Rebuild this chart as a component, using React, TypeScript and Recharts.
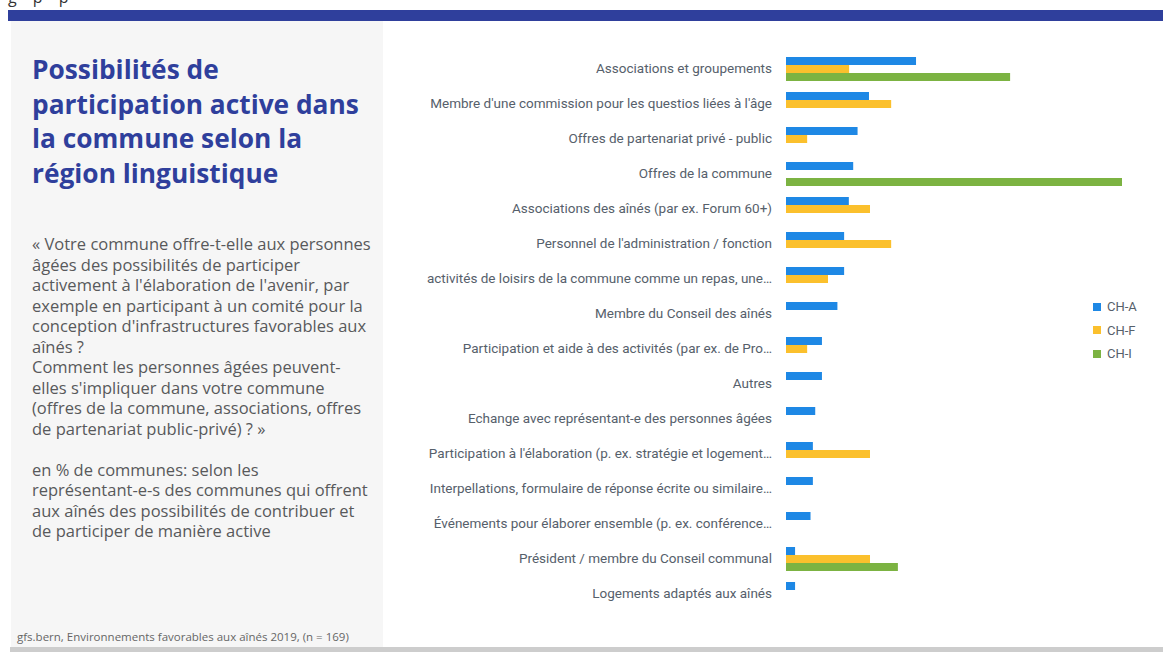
import React from 'react';
import { BarChart, Bar, XAxis, YAxis, Legend } from 'recharts';

const categories = [
  'Associations et groupements',
  "Membre d'une commission pour les questios liées à l'âge",
  'Offres de partenariat privé - public',
  'Offres de la commune',
  'Associations des aînés (par ex. Forum 60+)',
  "Personnel de l'administration / fonction",
  'activités de loisirs de la commune comme un repas, une…',
  'Membre du Conseil des aînés',
  'Participation et aide à des activités (par ex. de Pro…',
  'Autres',
  'Echange avec représentant-e des personnes âgées',
  "Participation à l'élaboration (p. ex. stratégie et logement…",
  'Interpellations, formulaire de réponse écrite ou similaire…',
  'Événements pour élaborer ensemble (p. ex. conférence…',
  'Président / membre du Conseil communal',
  'Logements adaptés aux aînés',
];

const chA = [38.7, 24.7, 21.3, 20.0, 18.7, 17.3, 17.3, 15.3, 10.7, 10.7, 8.7, 8.0, 8.0, 7.3, 2.7, 2.7];
const chF = [18.8, 31.3, 6.3, 0, 25.0, 31.3, 12.5, 0, 6.3, 0, 0, 25.0, 0, 0, 25.0, 0];
const chI = [66.7, 0, 0, 100, 0, 0, 0, 0, 0, 0, 0, 0, 0, 0, 33.3, 0];

const seriesNames = ['CH-A', 'CH-F', 'CH-I'];
const seriesColors = ['#1e88e5', '#fbc02d', '#7cb342'];

const data = categories.map((name, i) => ({
  name,
  'CH-A': chA[i],
  'CH-F': chF[i],
  'CH-I': chI[i],
}));

const FONT = 'Roboto, "Noto Sans", sans-serif';
const TEXT_FONT = '"Open Sans", "Noto Sans", sans-serif';

const LegendBox = (props: any) => {
  const items = props.payload || [];
  return (
    <div style={{ fontFamily: FONT, fontSize: 13, color: '#56606b' }}>
      {items.map((item: any) => (
        <div key={item.value} style={{ display: 'flex', alignItems: 'center', height: 23.5 }}>
          <span style={{ display: 'inline-block', width: 8, height: 8, background: item.color, marginRight: 6 }} />
          <span>{item.value}</span>
        </div>
      ))}
    </div>
  );
};

export default function App() {
  return (
    <div style={{ position: 'absolute', left: 0, top: 0, width: 1163, height: 652, overflow: 'hidden', background: '#fff', fontFamily: TEXT_FONT }}>
      <div style={{ position: 'absolute', left: 8, top: -14, fontSize: 16, color: '#333', letterSpacing: 6 }}>g p p</div>
      <div style={{ position: 'absolute', left: 8, top: 10, width: 1155, height: 11, background: '#2f3f9c' }} />
      <div style={{ position: 'absolute', left: 11, top: 21, width: 372, height: 626, background: '#f6f6f6' }} />
      <div style={{ position: 'absolute', left: 10, top: 647, width: 1153, height: 5, background: '#cdcdcd' }} />

      <div style={{ position: 'absolute', left: 32, top: 52, width: 350, fontSize: 26.3, fontWeight: 700, lineHeight: '34.5px', color: '#2f3f9c' }}>
        Possibilités de<br />
        participation active dans<br />
        la commune selon la<br />
        région linguistique
      </div>

      <div style={{ position: 'absolute', left: 32, top: 234, width: 350, fontSize: 16.5, lineHeight: '20.5px', color: '#58595b' }}>
        « Votre commune offre-t-elle aux personnes<br />
        âgées des possibilités de participer<br />
        activement à l'élaboration de l'avenir, par<br />
        exemple en participant à un comité pour la<br />
        conception d'infrastructures favorables aux<br />
        aînés ?<br />
        Comment les personnes âgées peuvent-<br />
        elles s'impliquer dans votre commune<br />
        (offres de la commune, associations, offres<br />
        de partenariat public-privé) ? »<br />
        <br />
        en % de communes: selon les<br />
        représentant-e-s des communes qui offrent<br />
        aux aînés des possibilités de contribuer et<br />
        de participer de manière active
      </div>

      <div style={{ position: 'absolute', left: 17, top: 629, fontSize: 11.5, color: '#666' }}>
        gfs.bern, Environnements favorables aux aînés 2019, (n = 169)
      </div>

      <div style={{ position: 'absolute', left: 383, top: 0 }}>
        <BarChart
          width={780}
          height={652}
          data={data}
          layout="vertical"
          margin={{ top: 51, right: 41, bottom: 41, left: 0 }}
          barSize={8}
          barGap={0}
        >
          <XAxis type="number" domain={[0, 100]} hide />
          <YAxis
            type="category"
            dataKey="name"
            width={403}
            axisLine={false}
            tickLine={false}
            tickMargin={8}
            interval={0}
            tick={{ fontSize: 13.5, fill: '#56606b', fontFamily: FONT }}
          />
          <Legend
            layout="vertical"
            align="center"
            verticalAlign="middle"
            wrapperStyle={{ left: 710, top: 295, width: 60 }}
            content={<LegendBox />}
          />
          {seriesNames.map((s, i) => (
            <Bar key={s} dataKey={s} fill={seriesColors[i]} isAnimationActive={false} />
          ))}
        </BarChart>
      </div>
    </div>
  );
}
